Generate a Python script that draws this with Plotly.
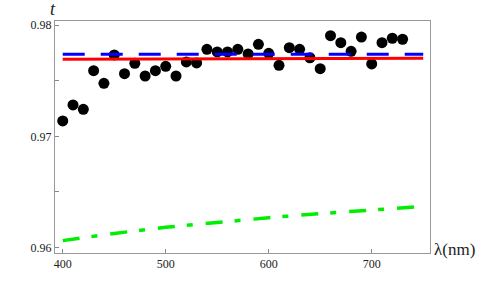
import plotly.graph_objects as go

wavelength = [400, 410, 420, 430, 440, 450, 460, 470, 480, 490, 500, 510, 520, 530,
              540, 550, 560, 570, 580, 590, 600, 610, 620, 630, 640, 650, 660, 670,
              680, 690, 700, 710, 720, 730]
t_measured = [0.97138, 0.97282, 0.97243, 0.97590, 0.97476, 0.97731, 0.97563, 0.97656,
              0.97542, 0.97590, 0.97629, 0.97542, 0.97668, 0.97659, 0.97782, 0.97758,
              0.97758, 0.97782, 0.97740, 0.97827, 0.97746, 0.97638, 0.97796, 0.97782,
              0.97706, 0.97608, 0.97904, 0.97841, 0.97764, 0.97892, 0.97650, 0.97841,
              0.97881, 0.97872]

line_x = [400, 750]
red_t = [0.97692, 0.97702]
blue_t = [0.97737, 0.97737]

green_x = [400, 450, 500, 550, 600, 650, 700, 750]
green_t = [0.96063, 0.96128, 0.96183, 0.96229, 0.96269, 0.96306, 0.96340, 0.96370]

x_ticks = [400, 500, 600, 700]
y_ticks = [0.96, 0.97, 0.98]
y_tick_labels = ["0.96", "0.97", "0.98"]

fig = go.Figure()
fig.add_trace(go.Scatter(x=wavelength, y=t_measured, mode="markers",
                         marker=dict(color="black", size=11), showlegend=False))
fig.add_trace(go.Scatter(x=line_x, y=red_t, mode="lines",
                         line=dict(color="#ff0000", width=3), showlegend=False))
fig.add_trace(go.Scatter(x=line_x, y=blue_t, mode="lines",
                         line=dict(color="#0000ff", width=3, dash="22px,16px"), showlegend=False))
fig.add_trace(go.Scatter(x=green_x, y=green_t, mode="lines",
                         line=dict(color="#00ee00", width=3.5, dash="17px,12px,6px,13px"),
                         showlegend=False))

tickfont = dict(family="Liberation Serif, Times New Roman, serif", size=12, color="#222")

fig.update_xaxes(range=[392.5, 756.6], tickvals=x_ticks, ticks="inside", ticklen=4,
                 tickcolor="#888", showline=True, linecolor="#999", linewidth=1,
                 mirror=True, showgrid=False, zeroline=False, tickfont=tickfont)
fig.update_yaxes(range=[0.95952, 0.98036], tickvals=y_ticks, ticktext=y_tick_labels,
                 ticks="inside", ticklen=4, tickcolor="#888",
                 minor=dict(tickvals=[0.965, 0.975], ticks="inside", ticklen=4, tickcolor="#888"),
                 showline=True, linecolor="#999", linewidth=1, mirror=True,
                 showgrid=False, zeroline=False, tickfont=tickfont)

fig.add_annotation(text="<i>t</i>", xref="paper", yref="paper", x=-0.005, y=1.05,
                   showarrow=False, xanchor="center", yanchor="middle",
                   font=dict(family="Liberation Serif, Times New Roman, serif", size=18, color="#222"))
fig.add_annotation(text="λ(nm)", xref="paper", yref="paper", x=1.006, y=0.013,
                   showarrow=False, xanchor="left", yanchor="middle",
                   font=dict(family="Liberation Serif, Times New Roman, serif", size=17, color="#222"))

fig.update_layout(width=491, height=298, margin=dict(l=55, r=61, t=21, b=45),
                  plot_bgcolor="white", paper_bgcolor="white", hovermode=False)

fig.write_html("out.html", config={"displayModeBar": False, "staticPlot": True},
               post_script="document.body.style.margin='0';")
